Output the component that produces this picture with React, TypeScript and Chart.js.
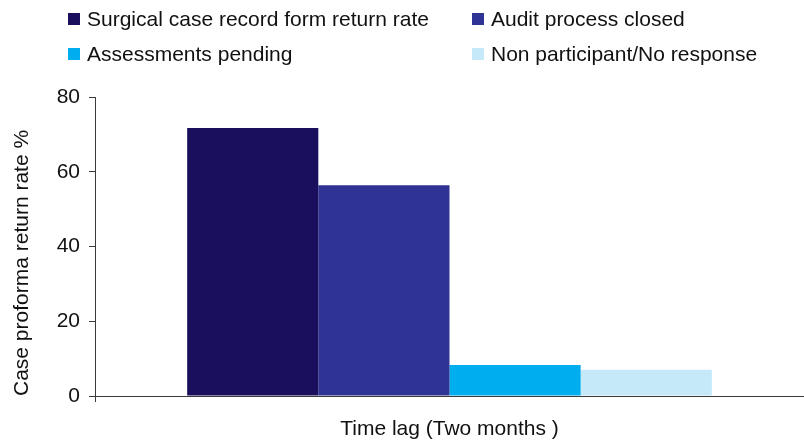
import React, { useEffect, useRef } from "react";
import { Chart, registerables } from "chart.js";

Chart.register(...registerables);

const categories: string[] = [""];
const seriesNames: string[] = [
  "Surgical case record form return rate",
  "Audit process closed",
  "Assessments pending",
  "Non participant/No response",
];
const seriesValues: number[][] = [[71.7], [56.4], [8.3], [7.0]];
const seriesColors: string[] = ["#190F5D", "#2F3394", "#00AEEF", "#C6E9F9"];
const yTicks: number[] = [0, 20, 40, 60, 80];
const yTitle = "Case proforma return rate %";
const xTitle = "Time lag (Two months )";

const FONT = "'Liberation Sans', Arial, sans-serif";
const AXIS = "#3a3a3a";

export default function App() {
  const ref = useRef<HTMLCanvasElement | null>(null);

  useEffect(() => {
    if (!ref.current) return;
    const chart = new Chart(ref.current, {
      type: "bar",
      data: {
        labels: categories,
        datasets: seriesNames.map((name, i) => ({
          label: name,
          data: seriesValues[i],
          backgroundColor: seriesColors[i],
          borderWidth: 0,
          barPercentage: 1,
          categoryPercentage: 0.74,
        })),
      },
      options: {
        animation: false,
        responsive: false,
        maintainAspectRatio: false,
        layout: { padding: { top: 97, right: 0, left: 0, bottom: 0 } },
        plugins: { legend: { display: false }, tooltip: { enabled: false } },
        scales: {
          x: {
            grid: { drawOnChartArea: false, drawTicks: true, tickLength: 6, color: AXIS },
            border: { display: true, color: AXIS, width: 1 },
            ticks: { display: false },
            title: {
              display: true,
              text: xTitle,
              color: "#111",
              font: { family: FONT, size: 21 },
              padding: { top: 0, bottom: 3 },
            },
            afterFit: (s: any) => {
              s.height = 49;
            },
          },
          y: {
            min: 0,
            max: 80,
            afterBuildTicks: (s: any) => {
              s.ticks = yTicks.map((v) => ({ value: v }));
            },
            grid: { drawOnChartArea: false, drawTicks: true, tickLength: 6, color: AXIS },
            border: { display: true, color: AXIS, width: 1 },
            ticks: {
              color: "#111",
              padding: 9,
              font: { family: FONT, size: 21 },
            },
            title: {
              display: true,
              text: yTitle,
              align: "start",
              color: "#111",
              font: { family: FONT, size: 21 },
              padding: { top: 10, bottom: 0 },
            },
            afterFit: (s: any) => {
              s.width = 95;
            },
          },
        },
      },
    });
    return () => chart.destroy();
  }, []);

  const legendPos = [
    { x: 68, y: 13 },
    { x: 472, y: 13 },
    { x: 68, y: 48 },
    { x: 472, y: 48 },
  ];

  return (
    <div style={{ position: "fixed", left: 0, top: 0, width: 804, height: 445, background: "#fff", overflow: "hidden" }}>
      <canvas ref={ref} width={804} height={445} style={{ position: "absolute", left: 0, top: 0, width: 804, height: 445 }} />
      {seriesNames.map((name, i) => (
        <div
          key={name}
          style={{
            position: "absolute",
            left: legendPos[i].x,
            top: legendPos[i].y - 7,
            height: 26,
            display: "flex",
            alignItems: "center",
            fontFamily: FONT,
            fontSize: 21,
            color: "#111",
            whiteSpace: "nowrap",
          }}
        >
          <span style={{ display: "inline-block", width: 12, height: 12, background: seriesColors[i], marginRight: 7 }} />
          <span>{name}</span>
        </div>
      ))}
    </div>
  );
}
